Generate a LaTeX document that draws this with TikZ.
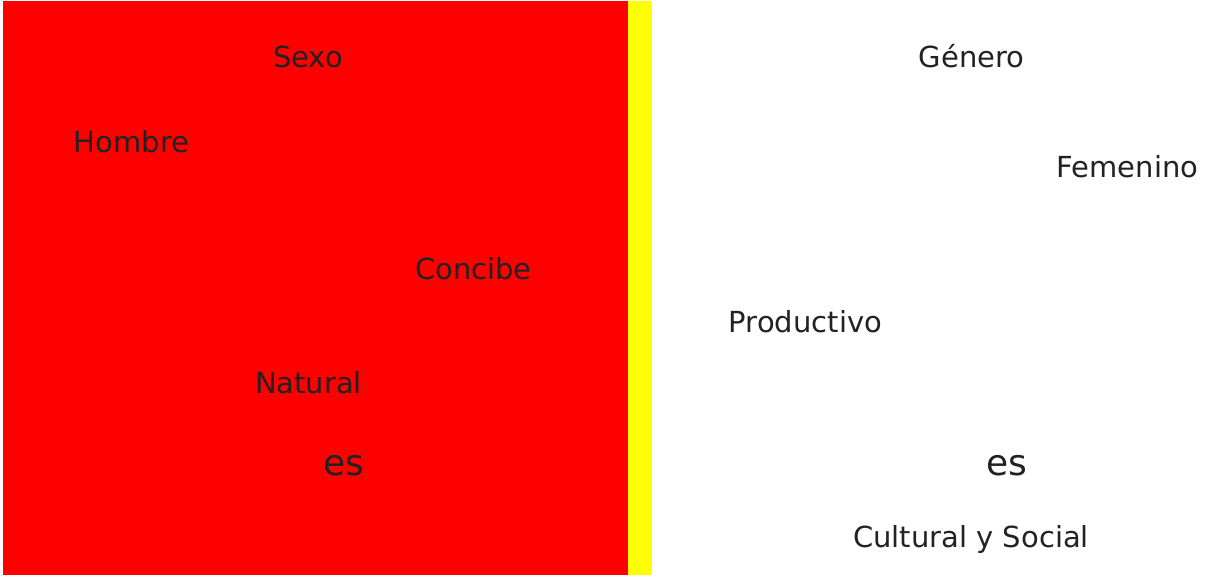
\documentclass[tikz,border=0pt]{standalone}
\usepackage{fontspec}
\setmainfont{DejaVu Sans}
\definecolor{txt}{HTML}{222222}
\definecolor{pred}{HTML}{FF0000}
\definecolor{pyel}{HTML}{FFFF00}
\begin{document}
\begin{tikzpicture}[x=1pt,y=-1pt,
  lbl/.style={text=txt,inner sep=0pt,anchor=base,font=\fontsize{29}{34}\selectfont},
  big/.style={lbl,font=\fontsize{36}{42}\selectfont}]
\useasboundingbox (0,0) rectangle (1206,575);
\fill[pred] (3,1) rectangle (628,575);
\fill[pyel] (628,1) rectangle (652,575);
\node[lbl] (sexo) at (308,67.5) {Sexo};
\node[lbl] (hombre) at (131.5,152.5) {Hombre};
\node[lbl] (concibe) at (473.5,279.5) {Concibe};
\node[lbl] (natural) at (308.5,393.5) {Natural};
\node[big] (esl) at (343.5,475) {es};
\node[lbl] (genero) at (971.5,67.5) {Género};
\node[lbl] (femenino) at (1127.5,177.5) {Femenino};
\node[lbl] (productivo) at (805.5,332.5) {Productivo};
\node[big] (esr) at (1006.5,475) {es};
\node[lbl] (cultural) at (971,547.5) {Cultural y Social};
\end{tikzpicture}
\end{document}
